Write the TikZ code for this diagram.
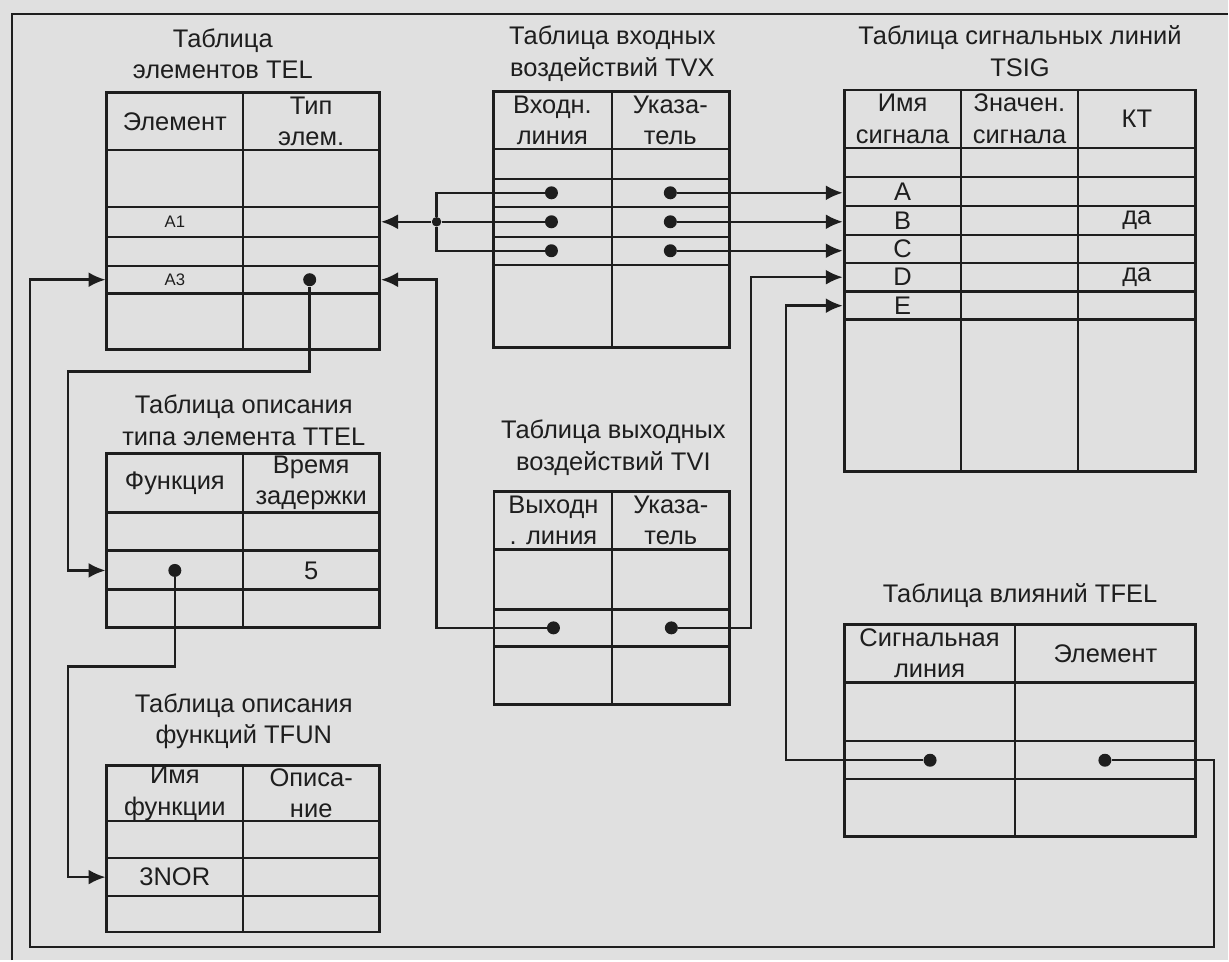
\documentclass[tikz,border=0pt]{standalone}
\usepackage{fontspec}
\setmainfont{Liberation Sans}
\usetikzlibrary{arrows.meta,positioning,fit}
\definecolor{paper}{RGB}{224,224,224}
\definecolor{ink}{RGB}{30,30,30}

\begin{document}
\begin{tikzpicture}[
  x=0.02cm, y=-0.02cm,
  font=\fontsize{14.5}{18}\selectfont, text=ink,
  >={Latex[length=3.4mm,width=3mm]},
  tabbox/.style={draw=ink, line width=1.6pt, inner sep=0pt},
  gridline/.style={ink, line width=1.4pt},
  link/.style={ink, line width=1.4pt},
  dot/.style={circle, fill=ink, inner sep=0pt, minimum size=2.6mm},
  joint/.style={dot, minimum size=1.9mm},
  hdr/.style={align=center, inner sep=1pt},
  tabtitle/.style={align=center, inner sep=1pt},
  small/.style={font=\fontsize{9.5}{11}\selectfont}
]
  % page and its frame
  \fill[paper] (0,0) rectangle (1229,961);
  \draw[link] (12,961) -- (12,14) -- (1229,14);

  % TEL
  \node[tabtitle] (telT) at (223,54) {Таблица\\элементов TEL};
  \node[tabbox, fit={(107,93) (380,350)}] (tel) {};
  \draw[gridline] (243.5,93) -- (243.5,350)
    \foreach \y in {150,207,237,266,294} {(107,\y) -- (380,\y)};
  \node[hdr] (telH1) at (175,121.5) {Элемент};
  \node[hdr] (telH2) at (311.5,121.5) {Тип\\элем.};
  \node[small] (a1) at (175,222) {A1};
  \node[small] (a3) at (175,280) {A3};
  \node[dot] (telP) at (310,280) {};

  % TVX
  \node[tabtitle] (tvxT) at (613,54) {Таблица входных\\воздействий TVX};
  \node[tabbox, fit={(494,92) (730,348)}] (tvx) {};
  \draw[gridline] (612.5,92) -- (612.5,348)
    \foreach \y in {149,179,207,237,265} {(494,\y) -- (730,\y)};
  \node[hdr] (tvxH1) at (553,120.5) {Входн.\\линия};
  \node[hdr] (tvxH2) at (671,120.5) {Указа-\\тель};
  \foreach \i/\y in {1/193,2/222,3/251} {
    \node[dot] (tvxL\i) at (552,\y) {};
    \node[dot] (tvxR\i) at (671,\y) {};
  }

  % TSIG
  \node[tabtitle] (tsigT) at (1021,51) {Таблица сигнальных линий\\TSIG};
  \node[tabbox, fit={(845,90) (1197,472)}] (tsig) {};
  \draw[gridline] (962,90) -- (962,472) (1079,90) -- (1079,472)
    \foreach \y in {148,177,206,235,263,292,320} {(845,\y) -- (1197,\y)};
  \node[hdr] (tsigH1) at (903.5,119) {Имя\\сигнала};
  \node[hdr] (tsigH2) at (1020.5,119) {Значен.\\сигнала};
  \node[hdr] (tsigH3) at (1138,119) {КТ};
  \foreach \s/\y in {A/191.5,B/220.5,C/249,D/277.5,E/306}
    \node (s\s) at (903.5,\y) {\s};
  \node (kB) at (1138,220.5) {да};
  \node (kD) at (1138,277.5) {да};

  % TTEL
  \node[tabtitle] (ttelT) at (244,421) {Таблица описания\\типа элемента TTEL};
  \node[tabbox, fit={(107,454) (380,628)}] (ttel) {};
  \draw[gridline] (243.5,454) -- (243.5,628)
    \foreach \y in {513,551,590} {(107,\y) -- (380,\y)};
  \node[hdr] (ttelH1) at (175,483.5) {Функция};
  \node[hdr] (ttelH2) at (311.5,483.5) {Время\\задержки};
  \node[dot] (ttelP) at (175,571) {};
  \node (delay) at (311.5,571) {5};

  % TFUN
  \node[tabtitle] (tfunT) at (244,722) {Таблица описания\\функций TFUN};
  \node[tabbox, fit={(107,766) (380,933)}] (tfun) {};
  \draw[gridline] (243.5,766) -- (243.5,933)
    \foreach \y in {822,859,897} {(107,\y) -- (380,\y)};
  \node[hdr] (tfunH1) at (175,794) {Имя\\функции};
  \node[hdr] (tfunH2) at (311.5,794) {Описа-\\ние};
  \node (nor) at (175,878) {3NOR};

  % TVI
  \node[tabtitle] (tviT) at (614,448) {Таблица выходных\\воздействий TVI};
  \node[tabbox, fit={(494.5,492) (730,705)}] (tvi) {};
  \draw[gridline] (612.5,492) -- (612.5,705)
    \foreach \y in {550,610,647} {(494.5,\y) -- (730,\y)};
  \node[hdr] (tviH1) at (554,521) {Выходн\\. линия};
  \node[hdr] (tviH2) at (671.5,521) {Указа-\\тель};
  \node[dot] (tviL) at (554,628.5) {};
  \node[dot] (tviR) at (672,628.5) {};

  % TFEL
  \node[tabtitle] (tfelT) at (1021,596) {Таблица влияний TFEL};
  \node[tabbox, fit={(845,625) (1197,837)}] (tfel) {};
  \draw[gridline] (1016,625) -- (1016,837)
    \foreach \y in {683,742,780} {(845,\y) -- (1197,\y)};
  \node[hdr] (tfelH1) at (930.5,654) {Сигнальная\\линия};
  \node[hdr] (tfelH2) at (1106.5,654) {Элемент};
  \node[dot] (tfelL) at (931,761) {};
  \node[dot] (tfelR) at (1106,761) {};

  % pointers
  \node[joint] (jn) at (437,222) {};
  \draw[link] (tvxL1) -| (jn) |- (tvxL3);
  \draw[link] (tvxL2) -- (jn);
  \draw[link,->] (jn) -- (tel.east |- jn);
  \foreach \i in {1,2,3}
    \draw[link,->] (tvxR\i) -- (tvxR\i -| tsig.west);
  \draw[link,->] (tviL) -| (jn |- a3) -- (tel.east |- a3);
  \draw[link,->] (tviR) -| (752,277.5) -- (tsig.west |- sD);
  \draw[link,->] (tfelL) -| (787,306) -- (tsig.west |- sE);
  \draw[link,->] (tfelR) -| (1215,948) -| (30,280) -- (tel.west |- a3);
  \draw[link,->] (telP) |- (68,372) |- (ttel.west |- ttelP);
  \draw[link,->] (ttelP) |- (68,667) |- (tfun.west |- nor);
\end{tikzpicture}
\end{document}
